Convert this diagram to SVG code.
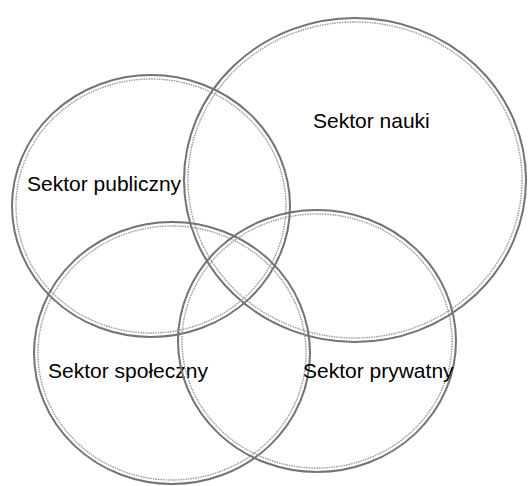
<svg xmlns="http://www.w3.org/2000/svg" width="528" height="486" viewBox="0 0 528 486">
  <style>
    .edge { fill: none; stroke: #737373; stroke-width: 2; }
    .grain { fill: none; stroke: #999; stroke-width: 1.4; stroke-dasharray: 1.5 1; }
    .label { font-family: "Liberation Sans", Arial, sans-serif; font-size: 21px; fill: #000; }
  </style>
  <rect width="528" height="486" fill="#fff"/>
  <g id="nauki">
    <ellipse class="edge" cx="355" cy="180" rx="171" ry="162"/>
    <ellipse class="grain" cx="355" cy="180" rx="167" ry="158"/>
    <text class="label" x="313" y="128">Sektor nauki</text>
  </g>
  <g id="publiczny">
    <ellipse class="edge" cx="151" cy="206" rx="139" ry="131"/>
    <ellipse class="grain" cx="151" cy="206" rx="135" ry="127"/>
    <text class="label" x="27" y="191">Sektor publiczny</text>
  </g>
  <g id="spoleczny">
    <ellipse class="edge" cx="172" cy="353" rx="138" ry="131"/>
    <ellipse class="grain" cx="172" cy="353" rx="134" ry="127"/>
    <text class="label" x="48" y="378">Sektor społeczny</text>
  </g>
  <g id="prywatny">
    <ellipse class="edge" cx="317" cy="341" rx="139" ry="131"/>
    <ellipse class="grain" cx="317" cy="341" rx="135" ry="127"/>
    <text class="label" x="303" y="378">Sektor prywatny</text>
  </g>
  <g id="connectors"/>
</svg>
